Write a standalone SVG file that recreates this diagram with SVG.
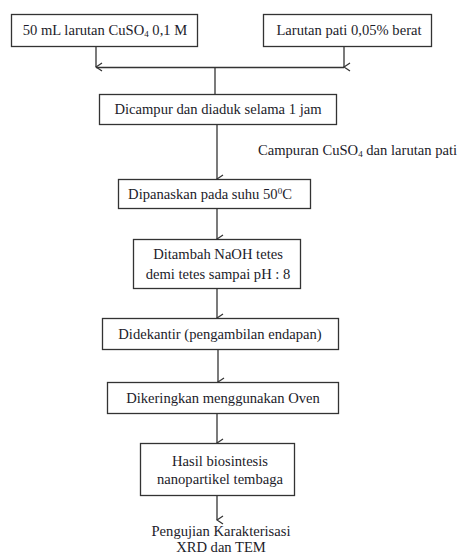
<svg xmlns="http://www.w3.org/2000/svg" width="458" height="556" viewBox="0 0 458 556">
<style>
.box{fill:#fff;stroke:#333;stroke-width:1.3}
.t{font-family:"Liberation Serif","DejaVu Serif",serif;font-size:14.6px;fill:#1c1c2a;text-anchor:middle}
.tl{font-family:"Liberation Serif","DejaVu Serif",serif;font-size:14.6px;fill:#1c1c2a}
.c{fill:none;stroke:#333;stroke-width:1.3}
</style>
<defs>
<marker id="ah" viewBox="0 0 10 10" refX="5" refY="9" markerWidth="10" markerHeight="10" markerUnits="userSpaceOnUse" orient="auto-start-reverse">
<polyline points="1,3 5,9 9,3" fill="none" stroke="#333" stroke-width="1.3"/>
</marker>
</defs>
<rect width="458" height="556" fill="#fff"/>
<g id="connectors">
<line class="c" x1="96" y1="47" x2="96" y2="67" marker-end="url(#ah)"/>
<line class="c" x1="344" y1="47" x2="344" y2="67" marker-end="url(#ah)"/>
<line class="c" x1="96" y1="67.5" x2="344" y2="67.5"/>
<line class="c" x1="215" y1="67" x2="215" y2="94"/>
<line class="c" x1="217" y1="124" x2="217" y2="179" marker-end="url(#ah)"/>
<line class="c" x1="217" y1="208" x2="217" y2="239" marker-end="url(#ah)"/>
<line class="c" x1="217" y1="288" x2="217" y2="318" marker-end="url(#ah)"/>
<line class="c" x1="218" y1="349" x2="218" y2="382" marker-end="url(#ah)"/>
<line class="c" x1="217" y1="413" x2="217" y2="443" marker-end="url(#ah)"/>
<line class="c" x1="217" y1="495" x2="217" y2="520" marker-end="url(#ah)"/>
</g>
<g id="n1">
<rect class="box" x="11.5" y="14.5" width="186" height="32"/>
<text class="t" x="105" y="35">50 mL larutan CuSO<tspan font-size="9" dy="2">4</tspan><tspan dy="-2"> 0,1 M</tspan></text>
</g>
<g id="n2">
<rect class="box" x="263.5" y="14.5" width="168" height="32"/>
<text class="t" x="349" y="35">Larutan pati 0,05% berat</text>
</g>
<g id="n3">
<rect class="box" x="99.5" y="94.5" width="237" height="30"/>
<text class="t" x="218" y="114">Dicampur dan diaduk selama 1 jam</text>
</g>
<g id="label">
<text class="tl" x="258" y="155">Campuran CuSO<tspan font-size="9" dy="2">4</tspan><tspan dy="-2"> dan larutan pati</tspan></text>
</g>
<g id="n4">
<rect class="box" x="118.5" y="179.5" width="192" height="29"/>
<text class="t" x="210" y="199">Dipanaskan pada suhu 50<tspan font-size="9" dy="-5">0</tspan><tspan dy="5">C</tspan></text>
</g>
<g id="n5">
<rect class="box" x="133.5" y="239.5" width="167" height="49"/>
<text class="t" x="218" y="259">Ditambah NaOH tetes</text>
<text class="t" x="218" y="279">demi tetes sampai pH : 8</text>
</g>
<g id="n6">
<rect class="box" x="102.5" y="318.5" width="236" height="31"/>
<text class="t" x="220" y="339">Didekantir (pengambilan endapan)</text>
</g>
<g id="n7">
<rect class="box" x="107.5" y="382.5" width="231" height="31"/>
<text class="t" x="223" y="403">Dikeringkan menggunakan Oven</text>
</g>
<g id="n8">
<rect class="box" x="140.5" y="443.5" width="154" height="52"/>
<text class="t" x="220" y="466">Hasil biosintesis</text>
<text class="t" x="220" y="484">nanopartikel tembaga</text>
</g>
<g id="n9">
<text class="t" x="221" y="536">Pengujian Karakterisasi</text>
<text class="t" x="221" y="552">XRD dan TEM</text>
</g>
</svg>
